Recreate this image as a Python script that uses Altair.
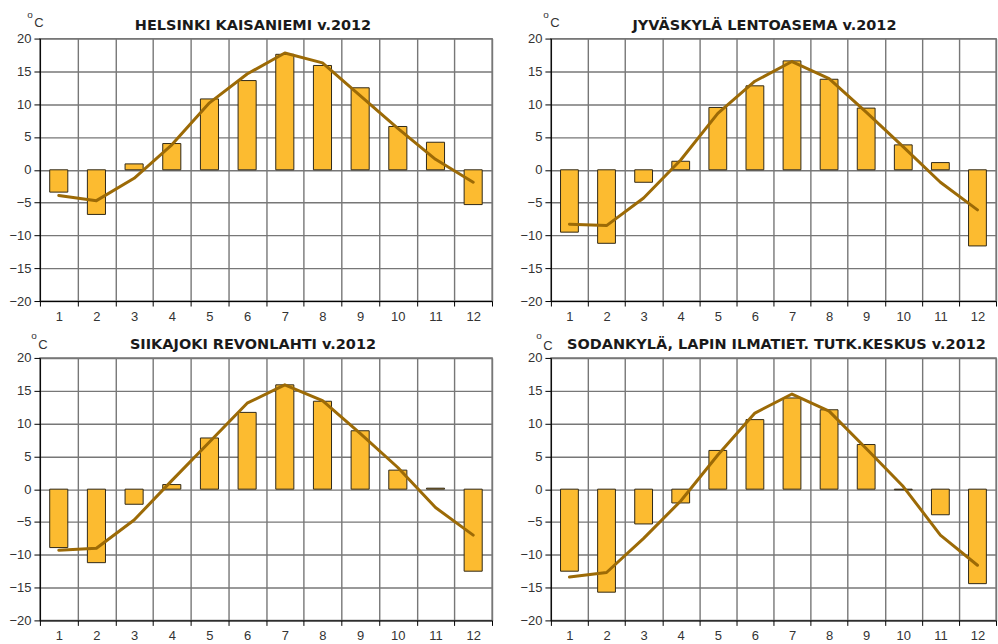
import altair as alt
import pandas as pd

# ---- data -------------------------------------------------------------
months = list(range(1, 13))
y_ticks = [-20, -15, -10, -5, 0, 5, 10, 15, 20]

titles = [
    "HELSINKI KAISANIEMI v.2012",
    "JYVÄSKYLÄ LENTOASEMA v.2012",
    "SIIKAJOKI REVONLAHTI v.2012",
    "SODANKYLÄ, LAPIN ILMATIET. TUTK.KESKUS v.2012",
]

helsinki_2012 = [-3.4, -6.8, 0.9, 4.0, 10.8, 13.6, 17.6, 15.9, 12.5, 6.6, 4.2, -5.3]
helsinki_norm = [-3.9, -4.7, -1.3, 3.8, 10.2, 14.6, 17.8, 16.3, 11.3, 6.3, 1.6, -1.9]

jyvaskyla_2012 = [-9.5, -11.2, -1.9, 1.3, 9.5, 12.8, 16.6, 13.8, 9.4, 3.8, 1.1, -11.6]
jyvaskyla_norm = [-8.3, -8.5, -4.3, 1.5, 8.6, 13.5, 16.5, 13.9, 8.8, 3.5, -1.9, -6.1]

siikajoki_2012 = [-8.9, -11.2, -2.3, 0.7, 7.8, 11.7, 15.9, 13.4, 8.9, 2.9, 0.15, -12.5]
siikajoki_norm = [-9.3, -9.0, -4.7, 1.3, 7.2, 13.1, 15.9, 13.5, 8.5, 3.3, -2.8, -7.0]

sodankyla_2012 = [-12.5, -15.7, -5.3, -2.1, 5.9, 10.6, 13.9, 12.1, 6.8, -0.1, -3.9, -14.4]
sodankyla_norm = [-13.4, -12.7, -7.5, -1.8, 5.2, 11.6, 14.5, 11.9, 6.2, 0.4, -7.0, -11.6]

# ---- styling ----------------------------------------------------------
BAR_FILL = "#FCBB30"
BAR_STROKE = "#2f2818"
LINE_COL = "#9C6A06"
GRID_COL = "#777777"
PLOT_H = 263


def label(text, size, x, y, bold=False, font="Liberation Sans", color="#333333"):
    return alt.Chart(pd.DataFrame({"s": [text]})).mark_text(
        font=font, fontSize=size, color=color, align="center",
        baseline="alphabetic", fontWeight="bold" if bold else "normal",
    ).encode(text="s:N", x=alt.value(x), y=alt.value(y))


def panel(title, temps, normals, width, title_dx, o_pos, c_pos):
    df = pd.DataFrame({"kk": months, "t": temps, "n": normals})
    base = alt.Chart(df)
    xenc = alt.X(
        "kk:O",
        scale=alt.Scale(paddingInner=0, paddingOuter=0),
        axis=alt.Axis(
            title=None, labelAngle=0, tickBand="extent", grid=True,
            tickSize=5, labelPadding=4,
        ),
    )
    yscale = alt.Scale(domain=[-20, 20], nice=False)
    yaxis = alt.Axis(values=y_ticks, title=None, tickSize=6, labelPadding=3, grid=True)
    bars = base.mark_bar(
        fill=BAR_FILL, stroke=BAR_STROKE, strokeWidth=1,
        width=alt.RelativeBandSize(0.48),
    ).encode(x=xenc, y=alt.Y("t:Q", scale=yscale, axis=yaxis))
    line = base.mark_line(
        color=LINE_COL, strokeWidth=3, strokeJoin="round", strokeCap="round"
    ).encode(x=xenc, y=alt.Y("n:Q", scale=yscale, axis=yaxis))
    t = label(title, 14.5, width / 2 + title_dx, -9, bold=True,
              font="DejaVu Sans", color="#1a1a1a")
    o_txt = label("o", 10, o_pos[0], o_pos[1])
    c_txt = label("C", 13, c_pos[0], c_pos[1])
    return alt.layer(bars, line, t, o_txt, c_txt).properties(width=width, height=PLOT_H)


p1 = panel(titles[0], helsinki_2012, helsinki_norm, 453, -13, (-10, -21), (-1, -12))
p2 = panel(titles[1], jyvaskyla_2012, jyvaskyla_norm, 446, -9, (-5, -21), (4, -12))
p3 = panel(titles[2], siikajoki_2012, siikajoki_norm, 453, -13, (-6, -19), (3, -9))
p4 = panel(titles[3], sodankyla_2012, sodankyla_norm, 446, 3, (-12, -19), (-3, -8))

chart = (
    alt.concat(
        p1, p2, p3, p4, columns=2, spacing={"row": 57, "column": 59},
        bounds="flush", align="each",
    )
    .properties(padding={"left": 8, "top": 8, "right": 0, "bottom": 0}, background="white")
    .configure_axis(
        labelFont="Liberation Sans", labelFontSize=13, labelColor="#333333",
        domainColor="#000000", tickColor="#000000", domainWidth=1, tickWidth=1,
        gridColor=GRID_COL, gridWidth=1.4, gridOpacity=1,
    )
    .configure_view(stroke=GRID_COL, strokeWidth=1.4)
)

chart.save("out.html", embed_options={"renderer": "svg", "actions": False})
